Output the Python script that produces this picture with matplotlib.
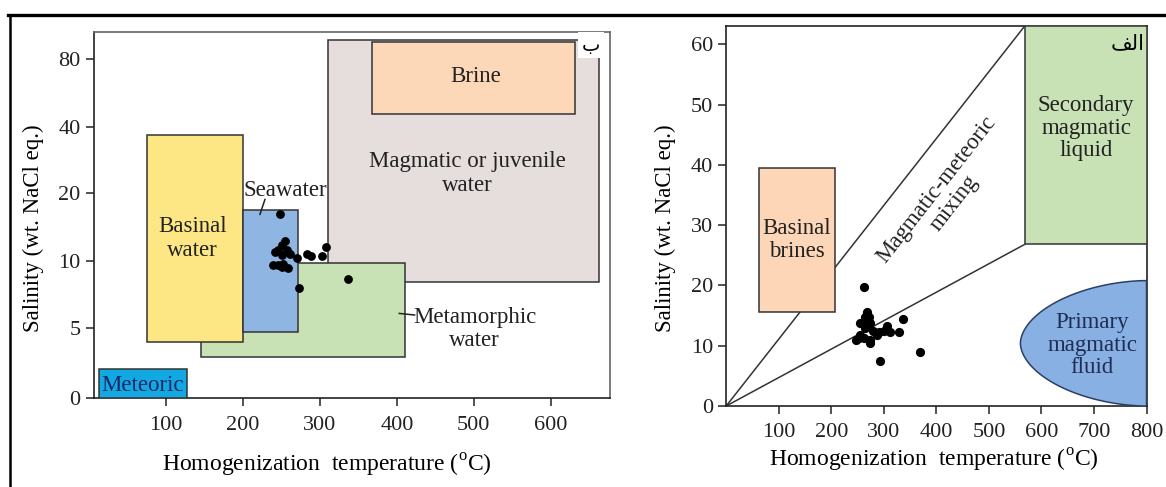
import numpy as np
import matplotlib
matplotlib.use("Agg")
import matplotlib.pyplot as plt
from matplotlib.patches import Rectangle, Polygon
from matplotlib.lines import Line2D

plt.rcParams['font.family'] = ['Liberation Serif', 'DejaVu Sans']
plt.rcParams['mathtext.fontset'] = 'custom'
plt.rcParams['mathtext.rm'] = 'Liberation Serif'

# ---------------- data: left panel (ب) ----------------
left_xticks = [100, 200, 300, 400, 500, 600]
left_yticks = [0, 5, 10, 20, 40, 80]
left_temp = [248, 272.7, 336, 254.8, 250.2, 245.8, 256.7, 241.5, 250.2, 261,
             239.3, 245.8, 252.3, 258.8, 250.2, 270.6, 283.5, 287.9, 302.2, 307.8]
left_sal = [16.9, 8.0, 8.65, 13.0, 12.4, 11.6, 11.6, 11.4, 10.9, 11.1,
            9.7, 9.7, 9.8, 9.45, 9.57, 10.4, 11.0, 10.7, 10.7, 12.1]
left_fields = ["Magmatic or juvenile\nwater", "Brine", "Metamorphic\nwater",
               "Basinal\nwater", "Seawater", "Meteoric"]
left_t0 = [310, 367, 146, 75, 200, 13]
left_t1 = [662, 632, 410, 200, 272, 127]
left_s0 = [8.4, 47.3, 2.95, 4.0, 4.7, 0.0]
left_s1 = [103, 101, 9.88, 37.5, 17.6, 2.05]

# ---------------- data: right panel (الف) ----------------
right_xticks = [100, 200, 300, 400, 500, 600, 700, 800]
right_yticks = [0, 10, 20, 30, 40, 50, 60]
right_temp = [263, 293, 369, 268, 264.6, 271, 255, 261.4, 274, 264.6, 255, 251.9,
              261.4, 274.2, 248, 273.5, 287, 290, 306, 312.3, 328, 335.8, 300, 280]
right_sal = [19.8, 7.4, 8.9, 15.6, 14.8, 14.8, 13.7, 13.7, 13.7, 12.9, 11.8, 11.2,
             11.2, 10.9, 11.0, 10.5, 11.8, 12.3, 13.2, 12.3, 12.3, 14.4, 12.5, 12.5]
brines_t = [62, 208]
brines_s = [15.6, 39.4]
secondary_t = [568, 800]
secondary_s = [26.8, 63]
primary_center = [800, 10.4]     # centre of the rounded "primary magmatic fluid" field
primary_half = [240, 10.4]       # half width (°C), half height (wt.%)
mixing_upper_end = [568, 63]
mixing_lower_end = [568, 26.8]

# ---------------- figure ----------------
fig = plt.figure(figsize=(11.66, 4.87), dpi=100)
ax1 = fig.add_axes([0.0804, 0.1821, 0.4428, 0.7528])
ax2 = fig.add_axes([0.6228, 0.1663, 0.3605, 0.780])

# frame lines of the figure
fig.add_artist(Line2D([0.007, 1.0], [0.9692, 0.9692], transform=fig.transFigure,
                      color='black', lw=2.4))
fig.add_artist(Line2D([0.0086, 0.0086], [0.0, 0.9692], transform=fig.transFigure,
                      color='black', lw=1.8))

# custom salinity scale (equal spacing 0,5,10,20,40,80)
KV = [0, 5, 10, 20, 40, 80, 160]
KP = [0, 1.06, 2.06, 3.075, 4.075, 5.085, 6.095]


def fwd(v):
    return np.interp(v, KV, KP)


def inv(p):
    return np.interp(p, KP, KV)


ax1.set_yscale('function', functions=(fwd, inv))
ax1.set_xlim(6, 677)
ax1.set_ylim(0, 113)

left_colors = ['#e6dddd', '#fcd7b8', '#c8e2b6', '#fde784', '#8fb5e3', '#12a8e2']
left_z = [1, 2, 2.5, 3, 3, 3]
for name, t0, t1, s0, s1, c, z in zip(left_fields, left_t0, left_t1, left_s0, left_s1,
                                      left_colors, left_z):
    ax1.add_patch(Rectangle((t0, s0), t1 - t0, s1 - s0, facecolor=c,
                            edgecolor='#333333', lw=1.1, zorder=z))

FS = 16.5
TC = '#222222'
ax1.text(502, 70, "Brine", ha='center', va='center', fontsize=FS, zorder=6, color=TC)
ax1.text(492, 26, "Magmatic or juvenile\nwater", ha='center', va='center', fontsize=FS,
         linespacing=1.15, zorder=6, color=TC)
ax1.text(255, 21, "Seawater", ha='center', va='center', fontsize=FS, zorder=6, color=TC)
ax1.text(134.5, 13.35, "Basinal\nwater", ha='center', va='center', fontsize=FS,
         linespacing=1.2, zorder=6, color=TC)
ax1.text(501, 4.9, "Metamorphic\nwater", ha='center', va='center', fontsize=FS,
         linespacing=1.15, zorder=6, color=TC)
ax1.text(69, 0.94, "Meteoric", ha='center', va='center', fontsize=FS, zorder=6,
         color='#1b2a66')
ax1.plot([228.5, 222], [19.1, 16.9], color=TC, lw=1.1, zorder=6)
ax1.plot([403, 423], [6.07, 5.95], color=TC, lw=1.1, zorder=6)
ax1.text(652, 97, "ب", family=['DejaVu Sans'], ha='center', va='center', fontsize=14,
         zorder=7, bbox=dict(facecolor='white', edgecolor='none', pad=2.5))

ax1.scatter(left_temp, left_sal, s=40, color='black', zorder=8, linewidths=0)

ax1.set_xticks(left_xticks)
ax1.set_yticks(left_yticks)
ax1.set_yticklabels([str(v) for v in left_yticks])
ax1.minorticks_off()
ax1.set_xlabel(r"Homogenization  temperature ($^{\mathrm{o}}$C)", fontsize=17, va='center')
ax1.xaxis.set_label_coords(0.452, -0.182)
ax1.set_ylabel("Salinity (wt. NaCl eq.)", fontsize=16.5, va='center')
ax1.yaxis.set_label_coords(-0.1164, 0.4645)

# ---------------- right panel ----------------
ax2.set_xlim(0, 800)
ax2.set_ylim(0, 63)
ax2.plot([0, mixing_upper_end[0]], [0, mixing_upper_end[1]], color='#333333', lw=1.1, zorder=2)
ax2.plot([0, mixing_lower_end[0]], [0, mixing_lower_end[1]], color='#333333', lw=1.1, zorder=2)
ax2.add_patch(Rectangle((brines_t[0], brines_s[0]), brines_t[1] - brines_t[0],
                        brines_s[1] - brines_s[0], facecolor='#fcd6b6',
                        edgecolor='#333333', lw=1.1, zorder=3))
ax2.add_patch(Rectangle((secondary_t[0], secondary_s[0]), secondary_t[1] - secondary_t[0],
                        secondary_s[1] - secondary_s[0], facecolor='#c8e2b6',
                        edgecolor='#333333', lw=1.1, zorder=3))

# rounded (superelliptic) outline of the primary magmatic fluid field
n_exp = 1.85
tt = np.linspace(0.5 * np.pi, 1.5 * np.pi, 200)
ct, st = np.cos(tt), np.sin(tt)
px = primary_center[0] + primary_half[0] * np.sign(ct) * np.abs(ct) ** (2 / n_exp)
py = primary_center[1] + primary_half[1] * np.sign(st) * np.abs(st) ** (2 / n_exp)
ax2.add_patch(Polygon(np.column_stack([px, py]), closed=True, facecolor='#88b0e2',
                      edgecolor='#2a3f66', lw=1.1, zorder=3))

ax2.text(134.5, 27.5, "Basinal\nbrines", ha='center', va='center', fontsize=FS,
         linespacing=1.1, zorder=6, color=TC)
ax2.text(685, 46.1, "Secondary\nmagmatic\nliquid", ha='center', va='center', fontsize=FS,
         linespacing=1.1, zorder=6, color=TC)
ax2.text(697, 10.1, "Primary\nmagmatic\nfluid", ha='center', va='center', fontsize=FS,
         linespacing=1.1, zorder=6, color='#1f2d55')
ax2.text(417, 34.8, "Magmatic-meteoric\nmixing", ha='center', va='center', fontsize=FS,
         rotation=52, rotation_mode='anchor', linespacing=1.05, zorder=6, color=TC)
ax2.text(764, 60.2, "\uFED2\uFEDF\uFE8D", family=['DejaVu Sans'], ha='center', va='center',
         fontsize=15, zorder=7, color='black')

ax2.scatter(right_temp, right_sal, s=44, color='black', zorder=8, linewidths=0)

ax2.set_xticks(right_xticks)
ax2.set_yticks(right_yticks)
ax2.set_xlabel(r"Homogenization  temperature ($^{\mathrm{o}}$C)", fontsize=17, va='center')
ax2.xaxis.set_label_coords(0.494, -0.142)
ax2.set_ylabel("Salinity (wt. NaCl eq.)", fontsize=16.5, va='center')
ax2.yaxis.set_label_coords(-0.1456, 0.468)

for ax in (ax1, ax2):
    for side in ('left', 'bottom', 'top', 'right'):
        ax.spines[side].set_color('#222222')
        ax.spines[side].set_linewidth(1.2)
    ax.tick_params(axis='both', direction='out', length=5.5, width=1.1, labelsize=16,
                   colors='#222222')
    ax.tick_params(axis='x', pad=7)
    ax.tick_params(axis='y', pad=4)
ax1.spines['top'].set_color('#666666')
ax1.spines['right'].set_color('#666666')

fig.savefig("out.png", dpi=100)
